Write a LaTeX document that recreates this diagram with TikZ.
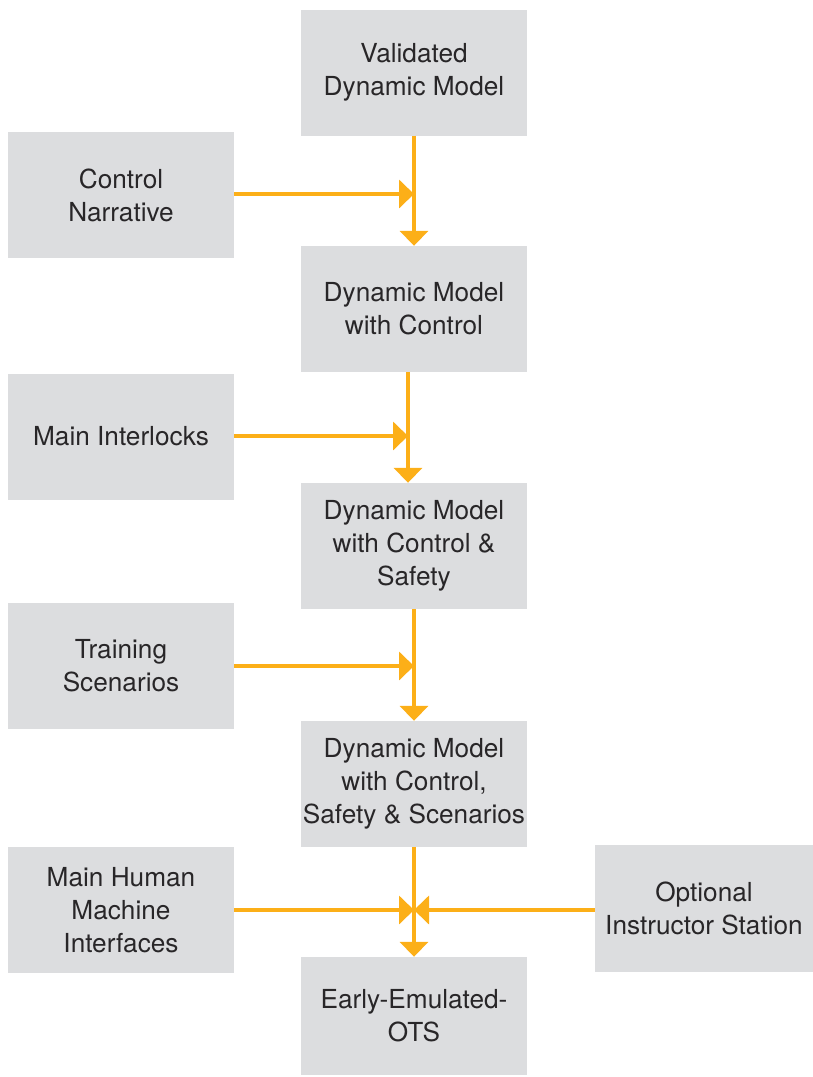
\documentclass[tikz,border=0pt]{standalone}
\usepackage{fontspec}
\setmainfont{TeX Gyre Heros}
\usetikzlibrary{arrows.meta}
\definecolor{boxgray}{RGB}{220,221,223}
\definecolor{flowor}{RGB}{252,175,24}
\definecolor{txtgray}{RGB}{40,38,40}
\begin{document}
\begin{tikzpicture}[x=1pt,y=-1pt,
	box/.style={fill=boxgray, text=txtgray, align=center, inner sep=2pt,
		minimum width=226pt, minimum height=126pt,
		font=\fontsize{26.2}{33}\selectfont},
	flow/.style={draw=flowor, line width=4.5pt, -{Triangle[length=15pt,width=28pt]}}]
		\useasboundingbox (0,0) rectangle (813,1077);
		\node[box] (vdm) at (414,72.5) {Validated\\Dynamic Model};
		\node[box] (cn) at (121,195) {Control\\Narrative};
		\node[box] (dmc) at (414,309) {Dynamic Model\\with Control};
		\node[box] (mi) at (121,436.5) {Main Interlocks};
		\node[box] (dmcs) at (414,546) {Dynamic Model\\with Control \&\\Safety};
		\node[box] (ts) at (121,666) {Training\\Scenarios};
		\node[box] (dmcss) at (414,784) {Dynamic Model\\with Control,\\Safety \& Scenarios};
		\node[box] (hmi) at (121,910) {Main Human\\Machine\\Interfaces};
		\node[box, minimum width=218pt, minimum height=127pt] (ois) at (704,908.5) {Optional\\Instructor Station};
		\node[box, minimum height=118pt] (ots) at (414,1016) {Early-Emulated-\\OTS};
		\coordinate (j2) at (408,436);
		\draw[flow] (vdm.south) -- (dmc.north);
		\draw[flow] (cn.east |- 0,194) -- (vdm.south |- 0,194);
		\draw[flow] (dmc.south -| j2) -- (dmcs.north -| j2);
		\draw[flow] (mi.east |- j2) -- (j2);
		\draw[flow] (dmcs.south) -- (dmcss.north);
		\draw[flow] (ts.east) -- (ts.east -| dmcs.south);
		\draw[flow] (dmcss.south) -- (ots.north);
		\draw[flow] (hmi.east) -- (hmi.east -| ots.north);
		\draw[flow] (ois.west |- hmi.east) -- (hmi.east -| ots.north);
	\end{tikzpicture}
\end{document}
